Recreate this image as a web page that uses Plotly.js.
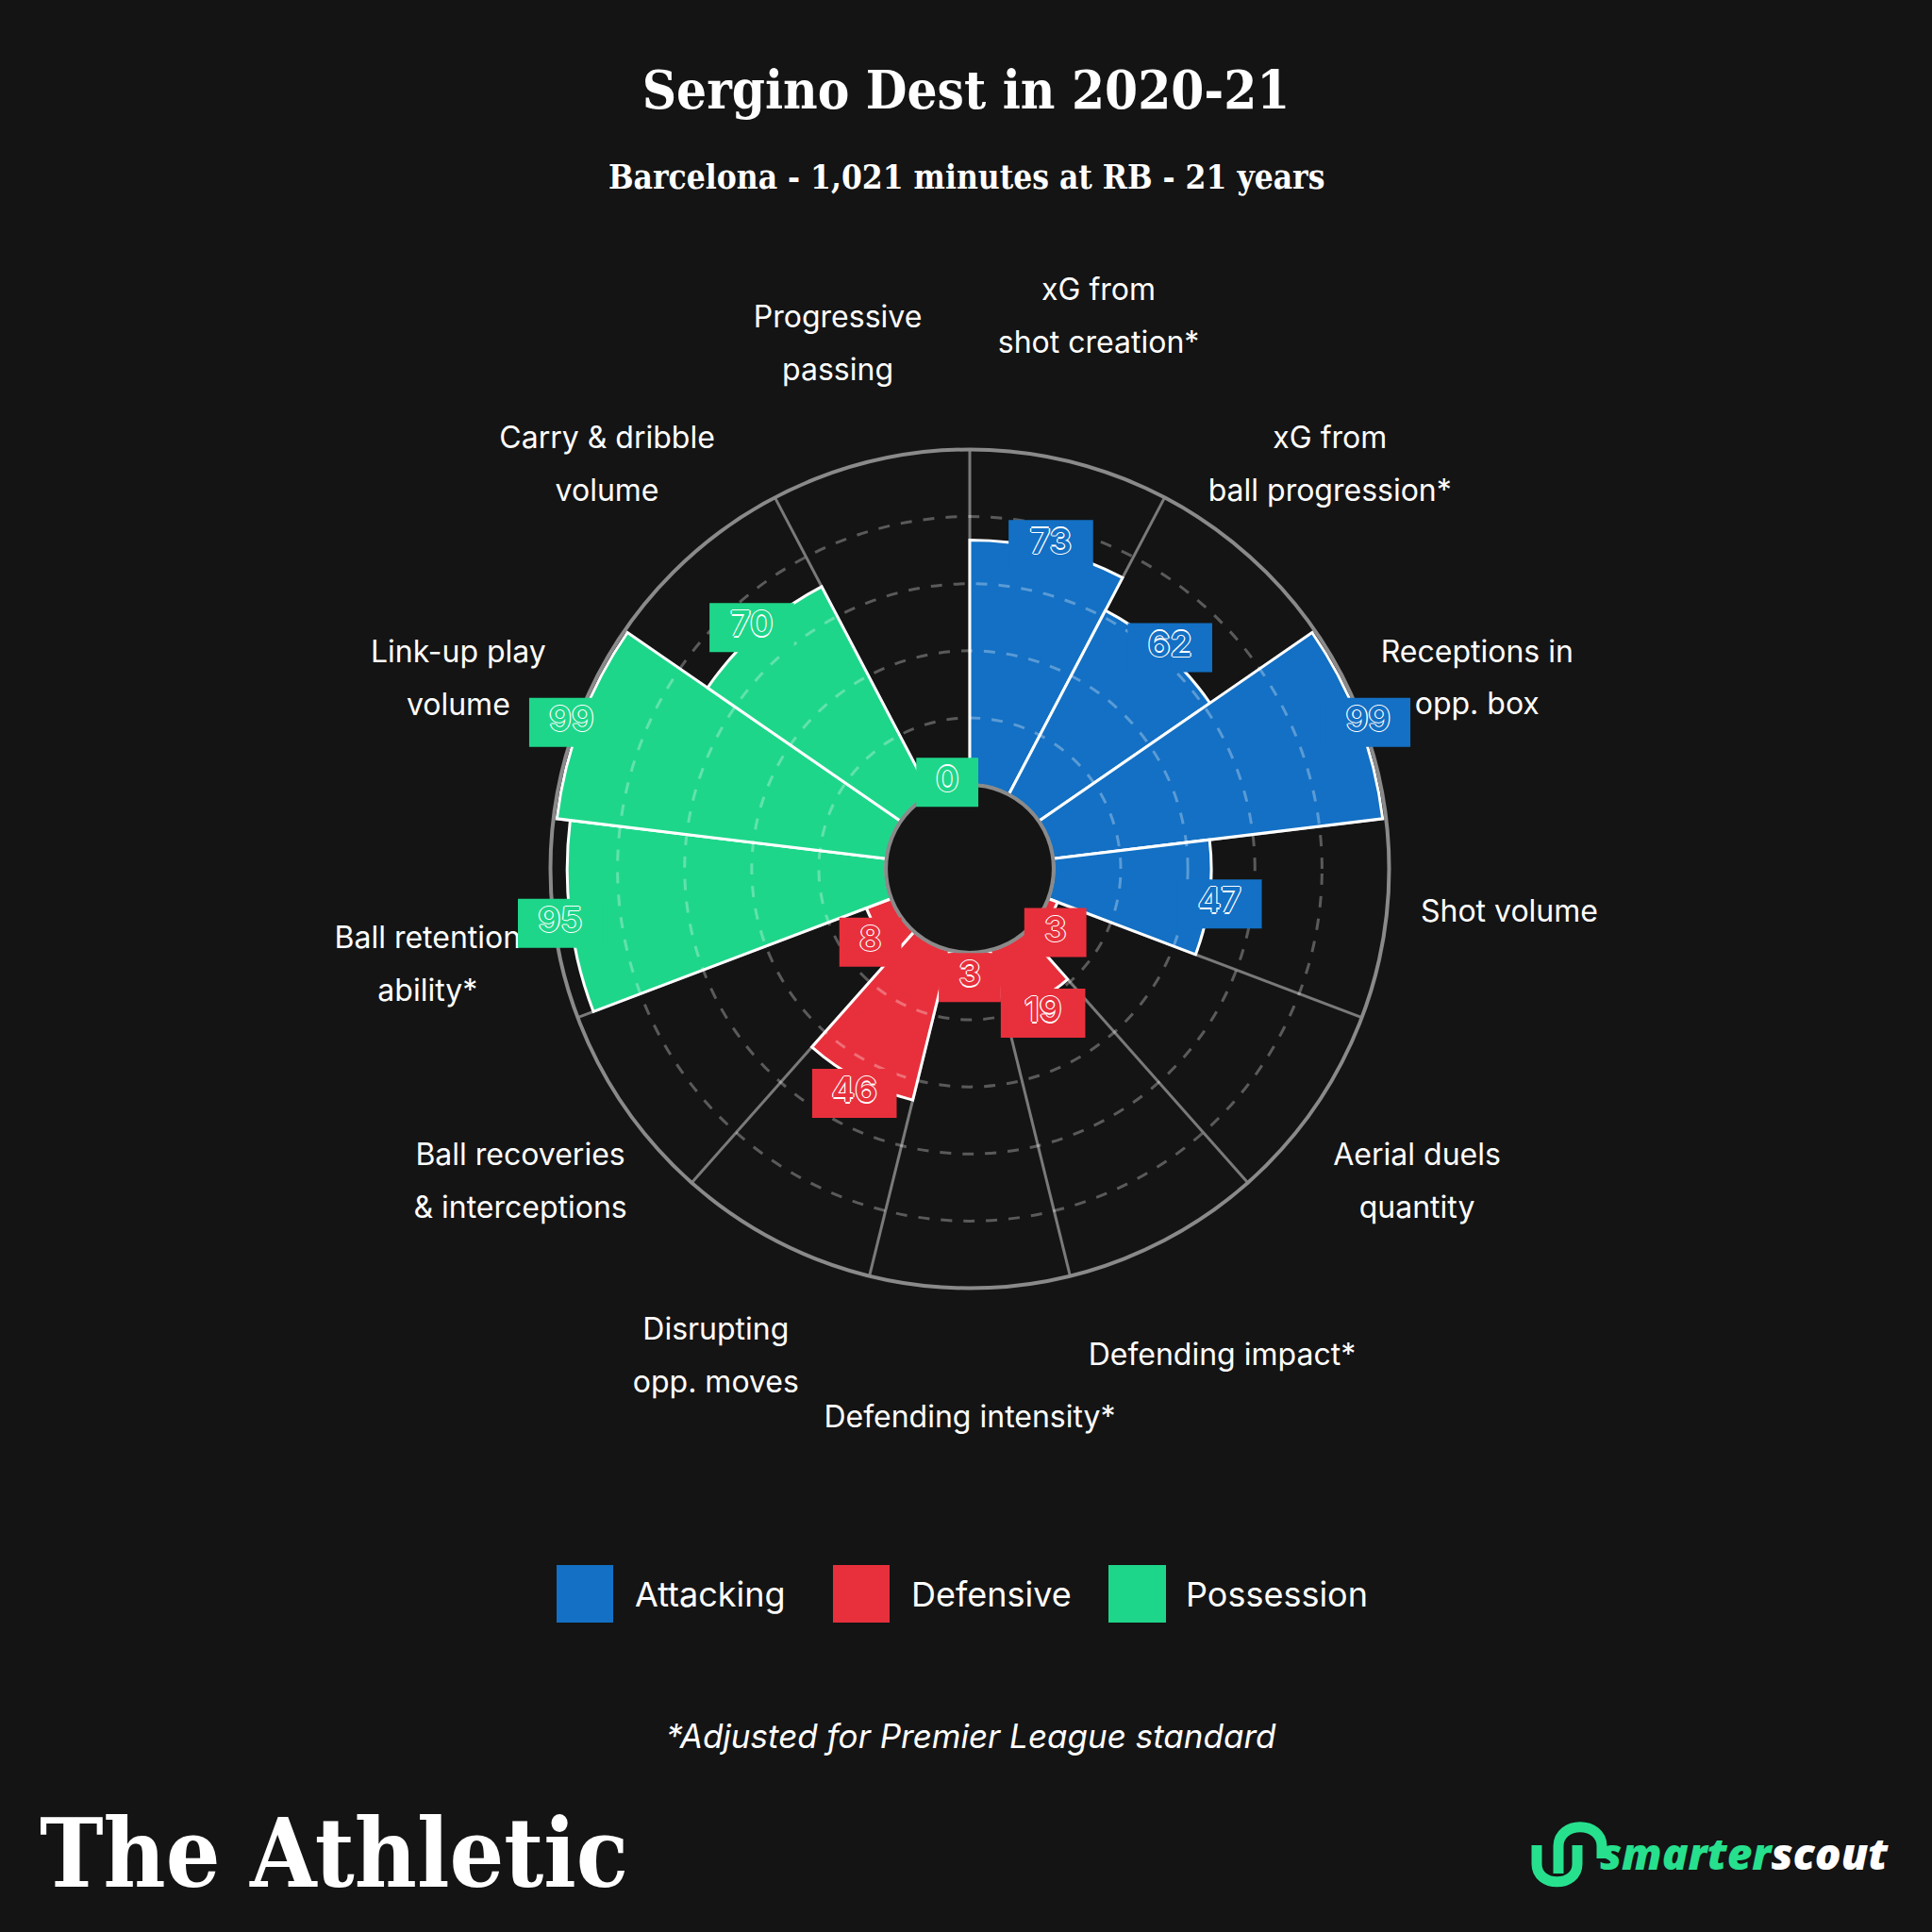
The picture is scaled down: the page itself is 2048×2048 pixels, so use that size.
<!DOCTYPE html>
<html><head><meta charset="utf-8">
<script src="https://cdn.plot.ly/plotly-3.0.1.min.js"></script>
<style>html,body{margin:0;padding:0;background:#141414;}</style>
</head><body><div id="chart" style="width:2048px;height:2048px"></div>
<script>
// ---- data ----
const metrics = [
  "xG from\nshot creation*",
  "xG from\nball progression*",
  "Receptions in\nopp. box",
  "Shot volume",
  "Aerial duels\nquantity",
  "Defending impact*",
  "Defending intensity*",
  "Disrupting\nopp. moves",
  "Ball recoveries\n& interceptions",
  "Ball retention\nability*",
  "Link-up play\nvolume",
  "Carry & dribble\nvolume",
  "Progressive\npassing"
];
const values = [73, 62, 99, 47, 3, 19, 3, 46, 8, 95, 99, 70, 0];
const groups = ["Attacking","Attacking","Attacking","Attacking",
  "Defensive","Defensive","Defensive","Defensive","Defensive",
  "Possession","Possession","Possession","Possession"];
const groupNames = ["Attacking", "Defensive", "Possession"];
const groupColors = ["#1370c4", "#e8303c", "#1ed68a"];
const titleText = "Sergino Dest in 2020-21";
const subtitleText = "Barcelona - 1,021 minutes at RB - 21 years";
const footnoteText = "*Adjusted for Premier League standard";

// ---- layout helpers ----
const BG = "#141414";
const W = 2048, H = 2048;
const px = x => x / W, py = y => 1 - y / H;
const step = 360 / metrics.length;
const theta = metrics.map((_, i) => i * step);
const boundaries = metrics.map((_, i) => i * step + step / 2);
const rotation = 90 - step / 2;
const colorOf = g => groupColors[groupNames.indexOf(g)];
const pointColors = groups.map(colorOf);
// category label placement (radius in axis units, angular nudge in degrees)
const labelRadius = [141.4, 134.4, 135.6, 136.6, 139.2, 140.7, 141.4, 141.2, 139.8, 139.6, 136.7, 134.9, 133.8];
const labelNudge  = [-0.5, 0.8, 1.1, -1.4, 1.1, 0.7, 0, -0.6, -1.0, -4.0, -1.3, -1.0, -0.5];
const VALUE_LABEL_PAD = 3;
const CX = 1028, CY = 921, R = 444.5;
const HOLE = 0.2;
// overlay subplots extend to r=150 with identical radial scale
const R2 = R * (HOLE + (1 - HOLE) * 1.5);
const HOLE2 = HOLE * R / R2;
const dom = (r, dy) => ({x: [px(CX - r), px(CX + r)], y: [py(CY + dy + r), py(CY + dy - r)]});
const SLAB = "'DejaVu Serif Condensed', 'DejaVu Serif', serif";
const SANS = "Inter, 'Open Sans', sans-serif";

const traces = [];
groupNames.forEach((g, gi) => {
  const idx = groups.map((x, i) => x === g ? i : -1).filter(i => i >= 0);
  traces.push({
    type: "barpolar", subplot: "polar", name: g,
    r: idx.map(i => values[i]), theta: idx.map(i => theta[i]),
    width: idx.map(() => step),
    marker: {color: groupColors[gi], line: {color: "#ffffff", width: 3}},
    hoverinfo: "skip", showlegend: false
  });
});

// grid overlay holder (dashed circles drawn above the bars)
traces.push({type: "scatterpolar", subplot: "polar2", mode: "markers", r: [0], theta: [0],
  marker: {size: 0.1, opacity: 0}, showlegend: false, hoverinfo: "skip"});

// category labels
const labelTexts = metrics.map(m => m.split("\n").map(s => '<span style="font-size:32px">' + s + '</span>').join("<br>"));
traces.push({
  type: "scatterpolar", subplot: "polar3", mode: "text",
  r: labelRadius, theta: theta.map((t, i) => t + labelNudge[i]),
  text: labelTexts, textposition: "middle center",
  textfont: {family: SANS, size: 43, color: "#ffffff"},
  cliponaxis: false, showlegend: false, hoverinfo: "skip"
});

// value labels (boxes + numbers)
traces.push({
  type: "scatterpolar", subplot: "polar4", mode: "markers+text",
  r: values.map(v => v + VALUE_LABEL_PAD), theta: theta,
  text: values.map(String),
  textposition: "middle center",
  marker: {
    symbol: "line-ew", opacity: 1,
    size: values.map(v => String(v).length > 1 ? 64 : 47),
    color: pointColors,
    line: {color: pointColors, width: 52}
  },
  textfont: {family: "Inter, 'DejaVu Sans', sans-serif", size: 37, weight: 600, color: pointColors,
    shadow: "1.3px 0 0 #fff, -1.3px 0 0 #fff, 0 1.3px 0 #fff, 0 -1.3px 0 #fff"},
  cliponaxis: false, showlegend: false, hoverinfo: "skip"
});

// legend (drawn as shapes + annotations)
const legendBoxes = [[590, 650], [883, 943], [1175, 1236]];
const legendTextX = [671, 964, 1255];
const shapes = groupNames.map((g, i) => ({
  type: "rect", xref: "paper", yref: "paper",
  x0: px(legendBoxes[i][0]), x1: px(legendBoxes[i][1]), y0: py(1720), y1: py(1659),
  fillcolor: groupColors[i], line: {width: 0}
}));
const annotations = groupNames.map((g, i) => ({
  text: g, xref: "paper", yref: "paper", x: px(legendTextX[i]), y: py(1690),
  xanchor: "left", yanchor: "middle", showarrow: false,
  font: {family: SANS, size: 36, color: "#ffffff"}
}));

// smarterscout icon
const ICON = "#27e08e";
shapes.push({type: "path", xref: "paper", yref: "paper",
  path: `M ${px(1629)},${py(1956)} L ${px(1629)},${py(1976)} C ${px(1629)},${py(2001)} ${px(1672)},${py(2001)} ${px(1672)},${py(1976)} L ${px(1672)},${py(1956)}`,
  line: {color: ICON, width: 11}});
shapes.push({type: "path", xref: "paper", yref: "paper",
  path: `M ${px(1652)},${py(1986)} L ${px(1652)},${py(1957)} C ${px(1652)},${py(1930)} ${px(1698)},${py(1930)} ${px(1698)},${py(1957)} L ${px(1698)},${py(1970)}`,
  line: {color: ICON, width: 11}});

annotations.push({
  text: subtitleText, xref: "paper", yref: "paper", x: 0.5, y: py(187),
  xanchor: "center", yanchor: "middle", showarrow: false,
  font: {family: SLAB, weight: "bold", size: 35, color: "#ffffff"}
});
annotations.push({
  text: footnoteText, xref: "paper", yref: "paper", x: px(1029), y: py(1840),
  xanchor: "center", yanchor: "middle", showarrow: false,
  font: {family: SANS, style: "italic", size: 35, color: "#ffffff"}
});
annotations.push({
  text: "The Athletic", xref: "paper", yref: "paper", x: px(40), y: py(1964),
  xanchor: "left", yanchor: "middle", showarrow: false,
  font: {family: SLAB, weight: "bold", size: 101, color: "#ffffff"}
});
annotations.push({
  text: '<span style="color:#27e08e">smarter</span>scout', xref: "paper", yref: "paper", x: px(1694), y: py(1964),
  xanchor: "left", yanchor: "middle", showarrow: false,
  font: {family: "'Open Sans', Inter, sans-serif", weight: 800, style: "italic", size: 46, color: "#ffffff"}
});

const hiddenAngular = {type: "linear", thetaunit: "degrees", rotation: rotation, direction: "clockwise",
  showgrid: false, showline: false, ticks: "", showticklabels: false};
const hiddenRadial = {range: [0, 150], showgrid: false, showline: false, ticks: "", showticklabels: false};

const layout = {
  width: W, height: H, margin: {l: 0, r: 0, t: 0, b: 0},
  paper_bgcolor: BG, plot_bgcolor: BG, showlegend: false,
  title: {text: titleText, x: 0.5, xanchor: "center", y: py(95), yanchor: "middle",
    font: {family: SLAB, weight: "bold", size: 56, color: "#ffffff"}},
  polar: {
    domain: dom(R, 0), hole: HOLE, bgcolor: BG,
    radialaxis: {range: [0, 100], showgrid: false, showline: false, ticks: "", showticklabels: false},
    angularaxis: {type: "linear", thetaunit: "degrees", rotation: rotation, direction: "clockwise",
      tickmode: "array", tickvals: boundaries, showticklabels: false, ticks: "",
      showgrid: true, gridcolor: "#7a7a7a", gridwidth: 3,
      showline: true, linecolor: "#8a8a8a", linewidth: 4}
  },
  polar2: {
    domain: dom(R2, 0), hole: HOLE2, bgcolor: "rgba(0,0,0,0)",
    radialaxis: {range: [0, 150], tickmode: "array", tickvals: [20, 40, 60, 80],
      showgrid: true, gridcolor: "rgba(255,255,255,0.3)", griddash: "12px,12px", gridwidth: 3,
      showline: false, ticks: "", showticklabels: false},
    angularaxis: hiddenAngular
  },
  polar3: {domain: dom(R2, -10), hole: HOLE2, bgcolor: "rgba(0,0,0,0)",
    radialaxis: hiddenRadial, angularaxis: hiddenAngular},
  polar4: {domain: dom(R2, 5), hole: HOLE2, bgcolor: "rgba(0,0,0,0)",
    radialaxis: hiddenRadial, angularaxis: hiddenAngular},
  shapes: shapes,
  annotations: annotations
};

Plotly.newPlot("chart", traces, layout, {staticPlot: true});
</script>
</body></html>
